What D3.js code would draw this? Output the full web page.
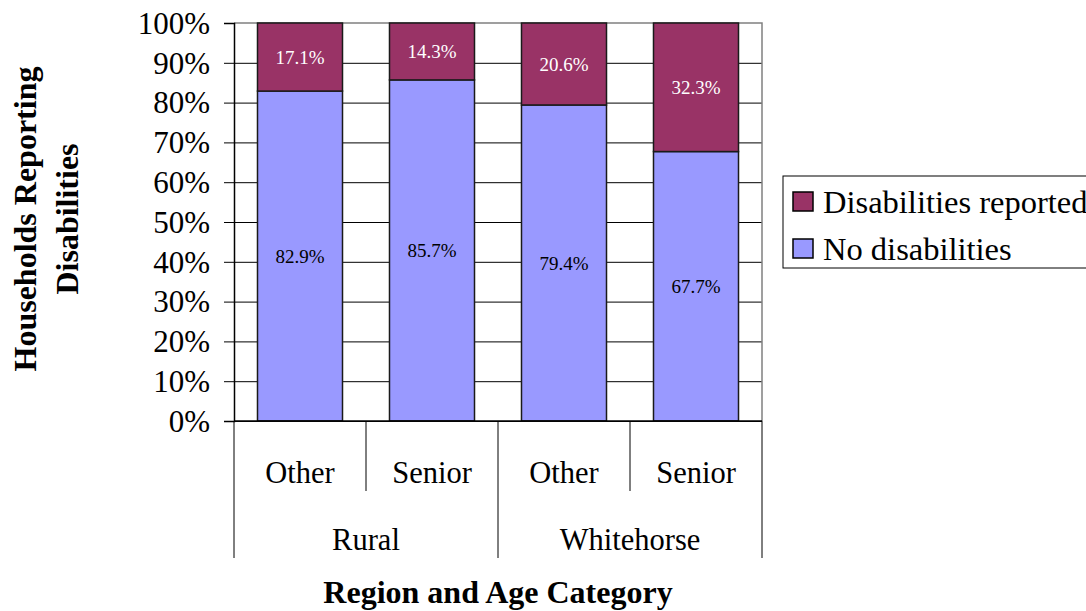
<!DOCTYPE html>
<html>
<head>
<meta charset="utf-8">
<script src="https://cdn.jsdelivr.net/npm/d3@7"></script>
<style>
  html, body { margin: 0; padding: 0; background: #fff; }
  svg { display: block; font-family: "Liberation Serif", "Times New Roman", serif; }
</style>
</head>
<body>
<svg id="chart" width="1086" height="611"></svg>
<script>
// Households reporting disabilities, by region and age category
const regions = ["Rural", "Whitehorse"];
const ageGroups = ["Other", "Senior"];
const categories = ["Rural|Other", "Rural|Senior", "Whitehorse|Other", "Whitehorse|Senior"];
const noDisabilities = [82.9, 85.7, 79.4, 67.7];
const disabilitiesReported = [17.1, 14.3, 20.6, 32.3];
const seriesNames = ["Disabilities reported", "No disabilities"];
const yTickValues = [0, 10, 20, 30, 40, 50, 60, 70, 80, 90, 100];

const colors = { "No disabilities": "#9999FF", "Disabilities reported": "#993366" };
const serif = "'Liberation Serif', 'Times New Roman', serif";

const svg = d3.select("#chart");
const plot = { left: 234, right: 762, top: 23, bottom: 421 };

const x = d3.scaleBand()
  .domain(categories)
  .range([plot.left, plot.right])
  .paddingInner(0.356)
  .paddingOuter(0.178);

const y = d3.scaleLinear()
  .domain([0, 100])
  .range([plot.bottom, plot.top]);

// Horizontal gridlines
svg.append("g")
  .attr("transform", `translate(${plot.left},0)`)
  .call(d3.axisLeft(y).tickValues(yTickValues.filter(v => v < 100)).tickSize(-(plot.right - plot.left)).tickFormat(""))
  .call(g => g.select(".domain").remove())
  .call(g => g.selectAll("line").attr("stroke", "#000").attr("stroke-width", 1));

// Plot frame (top and right edges)
svg.append("path")
  .attr("d", `M${plot.left},${plot.top}H${plot.right}V${plot.bottom}`)
  .attr("fill", "none")
  .attr("stroke", "#808080")
  .attr("stroke-width", 1.5);

// Stacked bars
const rows = categories.map((c, i) => ({
  cat: c,
  "No disabilities": noDisabilities[i],
  "Disabilities reported": disabilitiesReported[i]
}));
const stack = d3.stack().keys(["No disabilities", "Disabilities reported"]);
const stacked = stack(rows);

const layers = svg.append("g").selectAll("g")
  .data(stacked)
  .join("g")
  .attr("fill", d => colors[d.key]);

layers.selectAll("rect")
  .data(d => d.map(v => ({ key: d.key, v })))
  .join("rect")
  .attr("x", d => x(d.v.data.cat))
  .attr("width", x.bandwidth())
  .attr("y", d => y(d.v[1]))
  .attr("height", d => y(d.v[0]) - y(d.v[1]))
  .attr("stroke", "#1a1a1a")
  .attr("stroke-width", 1.5);

// Value labels
layers.selectAll("text")
  .data(d => d.map(v => ({ key: d.key, v })))
  .join("text")
  .attr("x", d => x(d.v.data.cat) + x.bandwidth() / 2)
  .attr("y", d => (y(d.v[0]) + y(d.v[1])) / 2)
  .attr("dy", "0.35em")
  .attr("text-anchor", "middle")
  .attr("font-family", serif)
  .attr("font-size", 19)
  .attr("fill", d => d.key === "Disabilities reported" ? "#fff" : "#000")
  .text(d => (d.v[1] - d.v[0]).toFixed(1) + "%");

// Y axis
svg.append("g")
  .attr("transform", `translate(${plot.left},0)`)
  .call(d3.axisLeft(y).tickValues(yTickValues).tickSize(10).tickPadding(14).tickFormat(d => d + "%"))
  .call(g => g.select(".domain").attr("stroke", "#000").attr("stroke-width", 1.5))
  .call(g => g.selectAll("line").attr("stroke", "#000").attr("stroke-width", 1))
  .call(g => g.selectAll("text")
    .attr("font-family", serif)
    .attr("font-size", 31)
    .attr("fill", "#000")
    .attr("dy", "0.33em"));

// X axis baseline
svg.append("line")
  .attr("x1", plot.left).attr("x2", plot.right)
  .attr("y1", plot.bottom).attr("y2", plot.bottom)
  .attr("stroke", "#000").attr("stroke-width", 1.5);

// Two-level category axis
const step = x.step();
const catLeft = i => plot.left + i * step;
const xAxis = svg.append("g").attr("stroke", "#000").attr("stroke-width", 1);

categories.forEach((c, i) => {
  const age = c.split("|")[1];
  xAxis.append("text")
    .attr("x", x(c) + x.bandwidth() / 2)
    .attr("y", 483)
    .attr("text-anchor", "middle")
    .attr("font-family", serif)
    .attr("font-size", 30.5)
    .attr("stroke", "none")
    .attr("fill", "#000")
    .text(age);
});

// separators: short between age groups, long at region edges
for (let i = 0; i <= categories.length; i++) {
  const isRegionEdge = i % ageGroups.length === 0;
  xAxis.append("line")
    .attr("x1", catLeft(i)).attr("x2", catLeft(i))
    .attr("y1", plot.bottom)
    .attr("y2", isRegionEdge ? 558 : 491);
}

regions.forEach((r, i) => {
  const left = catLeft(i * ageGroups.length);
  const right = catLeft((i + 1) * ageGroups.length);
  xAxis.append("text")
    .attr("x", (left + right) / 2)
    .attr("y", 550)
    .attr("text-anchor", "middle")
    .attr("font-family", serif)
    .attr("font-size", 30.5)
    .attr("stroke", "none")
    .attr("fill", "#000")
    .text(r);
});

// Axis titles
svg.append("text")
  .attr("x", (plot.left + plot.right) / 2)
  .attr("y", 603)
  .attr("text-anchor", "middle")
  .attr("font-family", serif)
  .attr("font-size", 32)
  .attr("font-weight", "bold")
  .text("Region and Age Category");

const yTitle = svg.append("text")
  .attr("transform", "translate(36,219) rotate(-90)")
  .attr("text-anchor", "middle")
  .attr("font-family", serif)
  .attr("font-size", 32)
  .attr("font-weight", "bold");
yTitle.append("tspan").attr("x", 0).attr("dy", 0).text("Households Reporting");
yTitle.append("tspan").attr("x", 0).attr("dy", 42).text("Disabilities");

// Legend
const legend = svg.append("g").attr("transform", "translate(783,176)");
legend.append("rect")
  .attr("width", 320).attr("height", 92)
  .attr("fill", "#fff").attr("stroke", "#000").attr("stroke-width", 1);

seriesNames.forEach((name, i) => {
  const gy = 16 + i * 47;
  legend.append("rect")
    .attr("x", 10).attr("y", gy)
    .attr("width", 20).attr("height", 19)
    .attr("fill", colors[name])
    .attr("stroke", "#000").attr("stroke-width", 1.5);
  legend.append("text")
    .attr("x", 40).attr("y", gy + 21)
    .attr("font-family", serif)
    .attr("font-size", 32.5)
    .text(name);
});
</script>
</body>
</html>
